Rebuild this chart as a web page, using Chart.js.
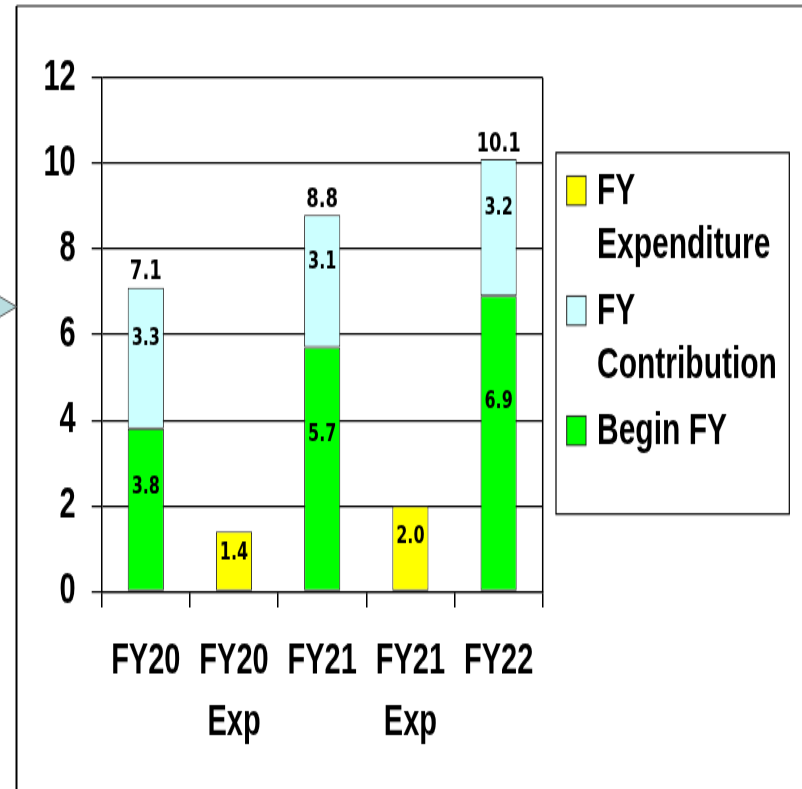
<!DOCTYPE html>
<html>
<head>
<meta charset="utf-8">
<script src="https://cdn.jsdelivr.net/npm/chart.js@4.4.1/dist/chart.umd.min.js"></script>
<style>
  html, body { margin: 0; padding: 0; background: #fff; overflow: hidden; }
  #wrap { position: absolute; left: 0; top: 0; width: 802px; height: 526px;
          transform: scaleY(1.5); transform-origin: 0 0; }
  canvas { display: block; }
</style>
</head>
<body>
<div id="wrap"><canvas id="c" width="802" height="526"></canvas></div>
<script>
// Fund balance by fiscal year (millions)
const categories = [["FY20"], ["FY20", "Exp"], ["FY21"], ["FY21", "Exp"], ["FY22"]];
const beginFY = [3.8, null, 5.7, null, 6.9];
const contribution = [3.3, null, 3.1, null, 3.2];
const expenditure = [null, 1.4, null, 2.0, null];
const yTickValues = [0, 2, 4, 6, 8, 10, 12];
const seriesNames = ["Begin FY", "FY Contribution", "FY Expenditure"];

const totals = beginFY.map((v, i) => (v == null ? null : v + (contribution[i] || 0)));

const AXIS_FONT = '"Liberation Sans", Arial, Helvetica, sans-serif';
const LABEL_FONT = '"DejaVu Sans", "Liberation Sans", Arial, sans-serif';

// page frame and the pointer at the left edge
const framePlugin = {
  id: 'frame',
  beforeDraw(chart) {
    const ctx = chart.ctx;
    ctx.save();
    ctx.fillStyle = '#fff';
    ctx.fillRect(0, 0, chart.width, chart.height);
    ctx.strokeStyle = '#000';
    ctx.lineWidth = 2;
    ctx.beginPath();
    ctx.moveTo(16.5, 4); ctx.lineTo(16.5, chart.height + 5);
    ctx.stroke();
    ctx.lineWidth = 1.2;
    ctx.beginPath();
    ctx.moveTo(16.5, 4); ctx.lineTo(chart.width + 5, 4);
    ctx.stroke();
    // pointer
    ctx.beginPath();
    ctx.moveTo(-10, 193.8);
    ctx.lineTo(16.5, 204.5);
    ctx.lineTo(-10, 215.2);
    ctx.closePath();
    ctx.fillStyle = '#b9dde0';
    ctx.fill();
    ctx.strokeStyle = '#555';
    ctx.lineWidth = 1;
    ctx.stroke();
    ctx.restore();
  }
};

// right edge of the plot area
const plotEdgePlugin = {
  id: 'plotEdge',
  afterDraw(chart) {
    const a = chart.chartArea, ctx = chart.ctx;
    ctx.save();
    ctx.strokeStyle = '#000';
    ctx.lineWidth = 1.5;
    ctx.beginPath();
    ctx.moveTo(a.right, a.top);
    ctx.lineTo(a.right, a.bottom);
    ctx.stroke();
    ctx.restore();
  }
};

// value labels inside each segment and totals above the stacks
const valueLabelPlugin = {
  id: 'valueLabels',
  afterDatasetsDraw(chart) {
    const ctx = chart.ctx;
    ctx.save();
    ctx.fillStyle = '#000';
    ctx.textAlign = 'center';
    ctx.textBaseline = 'middle';
    ctx.font = 'bold 16px ' + LABEL_FONT;
    chart.data.datasets.forEach((ds, di) => {
      const meta = chart.getDatasetMeta(di);
      meta.data.forEach((bar, i) => {
        const v = ds.data[i];
        if (v == null) return;
        const y = bar.base - 0.64 * (bar.base - bar.y);
        ctx.fillText(v.toFixed(1), bar.x, y);
      });
    });
    const topMeta = chart.getDatasetMeta(1);
    ctx.font = 'bold 18px ' + LABEL_FONT;
    ctx.textBaseline = 'alphabetic';
    topMeta.data.forEach((bar, i) => {
      if (totals[i] == null) return;
      ctx.fillText(totals[i].toFixed(1), bar.x, bar.y - 5.5);
    });
    ctx.restore();
  }
};

// boxed legend with wrapped labels
const legendBoxPlugin = {
  id: 'legendBox',
  afterDraw(chart) {
    const ctx = chart.ctx;
    const box = { x: 556, y: 101.8, w: 233.3, h: 240.9 };
    ctx.save();
    ctx.strokeStyle = '#000';
    ctx.lineWidth = 1.2;
    ctx.strokeRect(box.x, box.y, box.w, box.h);
    ctx.font = 'bold 30px ' + AXIS_FONT;
    ctx.textBaseline = 'middle';
    ctx.textAlign = 'left';
    const textX = 597, maxW = 188;
    const items = chart.data.datasets.slice().reverse();
    items.forEach((ds, k) => {
      const cy = box.y + 25.3 + k * 80;
      ctx.fillStyle = ds.backgroundColor;
      ctx.fillRect(566.7, cy - 9.7, 19.3, 19.4);
      ctx.strokeStyle = '#222';
      ctx.lineWidth = 1;
      ctx.strokeRect(566.7, cy - 9.7, 19.3, 19.4);
      // word wrap
      const words = ds.label.split(' ');
      const lines = [];
      let cur = '';
      words.forEach(w => {
        const t = cur ? cur + ' ' + w : w;
        if (cur && ctx.measureText(t).width > maxW) { lines.push(cur); cur = w; }
        else cur = t;
      });
      if (cur) lines.push(cur);
      ctx.fillStyle = '#000';
      lines.forEach((ln, j) => ctx.fillText(ln, textX, cy + 1 + j * 36));
    });
    ctx.restore();
  }
};

new Chart(document.getElementById('c'), {
  type: 'bar',
  data: {
    labels: categories,
    datasets: [
      { label: seriesNames[0], data: beginFY, backgroundColor: '#00ff00' },
      { label: seriesNames[1], data: contribution, backgroundColor: '#ccffff' },
      { label: seriesNames[2], data: expenditure, backgroundColor: '#ffff00' }
    ]
  },
  options: {
    responsive: false,
    animation: false,
    devicePixelRatio: 1,
    layout: { padding: { left: 0, top: 51.8, right: 259.3, bottom: 0 } },
    datasets: {
      bar: {
        borderColor: '#222',
        borderWidth: 1,
        borderSkipped: false,
        categoryPercentage: 1,
        barPercentage: 0.41,
        stack: 'fund'
      }
    },
    plugins: {
      legend: { display: false },
      tooltip: { enabled: false },
      title: { display: false }
    },
    scales: {
      x: {
        stacked: true,
        offset: true,
        afterFit(scale) { scale.height = 131.7; },
        grid: {
          offset: true,
          drawOnChartArea: false,
          drawTicks: true,
          tickLength: 10.7,
          color: '#000',
          lineWidth: 1.5
        },
        border: { display: true, color: '#000', width: 1.3 },
        ticks: {
          color: '#000',
          padding: 15.8,
          maxRotation: 0,
          autoSkip: false,
          font: { family: AXIS_FONT, size: 29, weight: 'bold', lineHeight: 1.4 }
        }
      },
      y: {
        stacked: true,
        min: yTickValues[0],
        max: yTickValues[yTickValues.length - 1],
        afterFit(scale) { scale.width = 101.7; },
        afterBuildTicks(scale) { scale.ticks = yTickValues.map(v => ({ value: v })); },
        grid: {
          color: '#000',
          lineWidth: 1.25,
          drawTicks: true,
          tickLength: 10
        },
        border: { display: true, color: '#000', width: 1.5 },
        ticks: {
          color: '#000',
          padding: 16,
          font: { family: AXIS_FONT, size: 29, weight: 'bold' }
        }
      }
    }
  },
  plugins: [framePlugin, plotEdgePlugin, valueLabelPlugin, legendBoxPlugin]
});
</script>
</body>
</html>
